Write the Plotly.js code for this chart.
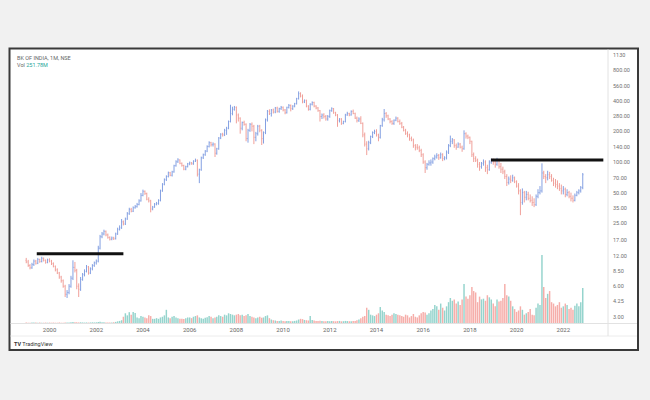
<!DOCTYPE html>
<html><head><meta charset="utf-8">
<script src="https://cdn.plot.ly/plotly-3.0.1.min.js"></script>
<style>html,body{margin:0;padding:0;background:#f1f1f1;}#chart{width:650px;height:400px;}</style>
</head><body><div id="chart"></div>
<script>
// Monthly bars, first bar = Jan 1999
const startYear = 1999;
const openP = [
10.8,10.4,9.6,9.1,9.8,10.6,10.1,11.0,10.5,11.3,10.8,10.3,
10.9,10.6,10.0,9.4,8.7,8.1,7.4,6.8,6.0,5.0,5.2,6.0,
7.2,9.2,8.6,6.0,5.6,7.0,7.8,8.4,9.3,8.1,8.9,9.6,
10.2,10.6,14.2,18.4,19.6,20.8,19.2,18.1,17.4,17.9,17.6,19.6,
21.8,22.5,25.8,24.6,27.5,31.0,34.2,32.8,35.5,36.4,38.2,41.5,
47.0,51.5,49.0,43.0,41.5,34.5,36.0,38.5,39.0,42.0,52.0,60.5,
67.0,72.0,78.5,74.0,80.0,92.0,100.5,105.0,97.0,92.5,85.0,90.0,
96,98,96,102,104,76,84,110,118,128,142,155,
148,150,122,135,172,188,185,205,215,250,300,330,
345,290,270,215,245,235,170,205,235,225,175,190,
225,205,170,195,260,315,300,325,310,340,315,335,
345,325,305,345,360,335,355,375,420,470,445,390,
405,355,330,370,385,355,340,320,280,290,280,265,
280,320,335,305,290,255,265,240,250,290,300,290,
315,300,270,255,265,240,185,150,135,155,178,195,
200,185,175,228,260,300,285,265,250,240,258,270,
250,240,220,205,190,185,170,165,145,140,138,130,
118,100,88,95,98,100,108,112,116,110,118,108,
110,125,145,160,165,145,140,150,140,135,190,180,
175,160,118,108,104,95,90,97,100,88,84,100,
104,100,95,104,90,85,80,72,63,68,66,70,
64,58,52,40,50,45,48,44,42,40,38,46,
50,52,78,72,70,75,72,66,62,60,58,55,
52,54,48,50,46,44,42,47,50,52,56
];
const highP = [
11.4,10.9,9.9,10.2,11.0,10.9,11.4,11.2,11.7,11.5,11.0,11.2,
11.3,10.9,10.3,9.6,9.0,8.3,7.6,7.0,6.2,5.5,6.3,7.6,
10.8,10.4,8.9,6.4,7.4,8.1,8.8,9.7,9.5,9.2,9.9,10.5,
11.0,15.0,19.2,20.5,21.6,21.2,19.8,18.6,18.5,18.4,20.2,22.6,
23.8,27.5,26.6,28.4,32.2,35.5,35.4,36.6,37.8,39.6,43.0,49.5,
53.5,52.5,50.0,45.0,42.5,37.0,39.5,40.5,43.0,53.5,62.0,69.0,
74.0,80.5,80.0,82.0,94.0,104.0,109.0,106.0,99.0,94.0,92.0,98.0,
101,100,104,108,106,86,113,121,131,146,160,158,
156,153,138,176,192,194,212,222,256,366,350,356,
352,300,275,250,255,240,212,242,245,232,198,232,
232,210,200,268,325,330,332,335,348,350,342,356,
352,332,350,372,368,362,382,428,495,485,462,412,
410,362,378,395,392,362,348,325,300,302,290,290,
328,345,340,312,296,270,270,255,298,312,305,322,
328,306,280,275,282,245,195,160,162,182,200,208,
210,190,232,272,332,310,292,270,258,262,280,276,
262,248,226,212,200,190,178,170,150,150,145,135,
122,104,98,104,106,111,118,122,120,124,122,114,
130,150,182,172,168,152,156,154,145,205,196,186,
178,162,124,114,108,100,100,106,104,94,104,108,
108,104,110,106,98,90,84,76,72,74,75,72,
66,62,54,55,52,52,51,48,46,44,48,54,
58,97,82,76,82,80,76,70,68,66,62,60,
58,56,54,52,50,47,49,52,54,58,78
];
const lowP = [
10.1,9.3,8.8,8.9,9.5,9.8,9.9,10.2,10.3,10.5,10.0,10.1,
10.3,9.7,9.2,8.4,7.9,7.1,6.5,5.8,4.7,4.6,5.0,5.8,
6.9,8.2,5.6,4.7,5.4,6.8,7.5,8.2,7.8,7.9,8.6,9.3,
9.8,10.3,13.8,17.8,19.0,18.6,17.6,16.9,17.0,17.1,17.3,19.2,
21.2,22.0,23.8,24.0,27.0,30.2,32.0,32.2,34.8,35.6,37.5,40.8,
46.0,47.5,42.0,40.0,32.0,33.5,35.5,37.5,38.0,41.0,51.0,59.0,
65.0,70.5,72.5,72.0,78.5,90.0,98.0,95.0,90.0,83.0,83.0,88.5,
93,94,94,100,72,62,82,107,115,125,139,142,
142,112,118,132,168,178,180,185,210,245,288,320,
240,250,190,205,228,160,155,198,200,150,160,182,
196,147,152,188,250,290,280,300,302,306,305,325,
315,295,300,336,315,325,345,368,412,432,378,380,
345,320,322,360,345,330,312,250,265,268,255,255,
272,312,298,282,222,245,232,235,245,285,282,286,
295,265,245,248,236,175,142,117,130,150,172,188,
178,160,170,222,250,272,258,240,232,232,252,245,
232,215,200,185,175,162,160,138,130,132,125,112,
96,78,84,92,92,96,104,108,105,108,102,104,
106,120,140,150,138,132,138,136,126,132,170,168,
150,112,100,100,88,82,86,92,80,76,82,96,
94,88,92,86,78,76,68,58,60,62,64,62,
56,48,30,38,40,42,42,40,37,36,37,44,
48,50,68,62,66,68,64,58,56,54,52,48,
48,45,46,44,41,40,41,46,48,50,54
];
const closeP = [
10.4,9.6,9.1,9.8,10.6,10.1,11.0,10.5,11.3,10.8,10.3,10.9,
10.6,10.0,9.4,8.7,8.1,7.4,6.8,6.0,5.0,5.2,6.0,7.2,
9.2,8.6,6.0,5.6,7.0,7.8,8.4,9.3,8.1,8.9,9.6,10.2,
10.6,14.2,18.4,19.6,20.8,19.2,18.1,17.4,17.9,17.6,19.6,21.8,
22.5,25.8,24.6,27.5,31.0,34.2,32.8,35.5,36.4,38.2,41.5,47.0,
51.5,49.0,43.0,41.5,34.5,36.0,38.5,39.0,42.0,52.0,60.5,67.0,
72.0,78.5,74.0,80.0,92.0,100.5,105.0,97.0,92.5,85.0,90.0,96.0,
98,96,102,104,76,84,110,118,128,142,155,148,
150,122,135,172,188,185,205,215,250,300,330,345,
290,270,215,245,235,170,205,235,225,175,190,225,
205,170,195,260,315,300,325,310,340,315,335,345,
325,305,345,360,335,355,375,420,470,445,390,405,
355,330,370,385,355,340,320,280,290,280,265,280,
320,335,305,290,255,265,240,250,290,300,290,315,
300,270,255,265,240,185,150,135,155,178,195,200,
185,175,228,260,300,285,265,250,240,258,270,250,
240,220,205,190,185,170,165,145,140,138,130,118,
100,88,95,98,100,108,112,116,110,118,108,110,
125,145,160,165,145,140,150,140,135,190,180,175,
160,118,108,104,95,90,97,100,88,84,100,104,
100,95,104,90,85,80,72,63,68,66,70,64,
58,52,40,50,45,48,44,42,40,38,46,50,
52,78,72,70,75,72,66,62,60,58,55,52,
54,48,50,46,44,42,47,50,52,56,75
];
const volumeM = [
3,2,2,3,4,3,2,3,2,2,3,2,
3,2,3,2,2,3,2,2,3,4,3,5,
8,6,5,4,5,4,3,4,3,4,5,4,
5,8,9,6,5,4,4,3,4,5,8,12,
15,20,45,70,55,78,60,80,72,40,35,50,
45,40,35,55,50,30,30,35,30,40,45,55,
95,40,35,45,50,40,35,30,30,28,35,40,
40,35,45,50,55,40,35,30,38,42,50,45,
35,40,45,55,50,45,60,55,70,65,60,55,
60,65,55,60,50,55,65,50,45,40,35,40,
45,38,40,50,55,35,25,20,18,15,15,18,
14,12,15,14,12,13,15,18,25,30,28,22,
20,18,50,22,18,15,14,16,14,12,13,15,
12,14,13,12,14,15,12,13,15,14,12,13,
14,15,20,25,35,45,50,110,95,60,55,50,
60,70,115,90,80,60,55,50,60,70,65,60,
55,50,45,60,55,40,50,65,45,40,55,70,
80,75,60,70,90,100,130,120,95,140,110,90,
120,150,180,160,170,140,155,130,170,280,190,175,
200,260,230,220,150,190,170,175,160,200,185,170,
140,120,170,155,160,180,280,200,190,160,120,100,
80,90,120,95,60,70,80,100,60,55,110,140,
130,490,260,180,210,230,150,140,120,130,150,110,
120,140,130,100,110,95,125,140,120,150,251.78
];
const priceTickVals = [3,4.25,6,8.5,12,17,25,35,50,70,100,140,200,280,400,560,800,1130];
const priceTickText = ['3.00','4.25','6.00','8.50','12.00','17.00','25.00','35.00','50.00','70.00','100.00','140.00','200.00','280.00','400.00','560.00','800.00','1130'];
const levelStart = ['1999-06-15','2018-11-27'];
const levelEnd = ['2003-03-01','2023-09-19'];
const levelPrice = [12.55,104.6];
const symbolText = 'BK OF INDIA, 1M, NSE';
const lastVolText = '251.78M';

const months = closeP.map((_, i) => {
  const y = startYear + Math.floor(i / 12);
  const m = (i % 12) + 1;
  return y + '-' + String(m).padStart(2, '0') + '-01';
});
const volColors = closeP.map((c, i) => c >= openP[i] ? '#95d4cd' : '#f6aeaa');

const W = 650, H = 400, L = 11, R = 42, T = 50, B = 77;
const pw = W - L - R, ph = H - T - B;
const px = x => (x - L) / pw;
const py = y => (H - B - y) / ph;

const traces = [
  {type:'bar', x:months, y:volumeM, marker:{color:volColors, line:{width:0}}, xaxis:'x', yaxis:'y', hoverinfo:'skip', showlegend:false},
  {type:'ohlc', x:months, open:openP, high:highP, low:lowP, close:closeP, xaxis:'x', yaxis:'y2',
   increasing:{line:{color:'#84a0e2', width:1}}, decreasing:{line:{color:'#f0a09a', width:1}},
   tickwidth:0.35, showlegend:false, hoverinfo:'skip'}
];
levelPrice.forEach((p, i) => {
  traces.push({type:'scatter', mode:'lines', x:[levelStart[i], levelEnd[i]], y:[p, p],
    xaxis:'x', yaxis:'y2', line:{color:'#111111', width:3}, hoverinfo:'skip', showlegend:false});
});

const gridLine = '#e2e2e2';
const layout = {
  width:W, height:H,
  margin:{l:L, r:R, t:T, b:B, pad:0},
  paper_bgcolor:'#f1f1f1', plot_bgcolor:'rgba(0,0,0,0)',
  font:{family:'Roboto, "Liberation Sans", sans-serif', color:'#666'},
  bargap:0.18, showlegend:false,
  xaxis:{type:'date', range:['1998-05-08','2023-12-01'], rangeslider:{visible:false},
    showgrid:false, zeroline:false, showline:false, ticks:'',
    tick0:'2000-01-01', dtick:'M24', tickformat:'%Y',
    tickfont:{size:6, color:'#666'}, ticklabelstandoff:2},
  yaxis:{range:[0, 1966], visible:false, fixedrange:true},
  yaxis2:{overlaying:'y', side:'right', type:'log', range:[0.4166, 3.1018],
    tickvals:priceTickVals, ticktext:priceTickText, ticks:'',
    showgrid:false, zeroline:false, showline:false,
    tickfont:{size:5.5, color:'#707070'}, ticklabelstandoff:4},
  shapes:[
    {type:'rect', xref:'paper', yref:'paper', x0:px(9.5), x1:px(638), y0:py(350), y1:py(48.5),
     fillcolor:'#ffffff', line:{color:'#3a3a3a', width:2}, layer:'below'},
    {type:'line', xref:'paper', yref:'paper', x0:px(10.5), x1:px(637), y0:py(323.5), y1:py(323.5), line:{color:gridLine, width:1}},
    {type:'line', xref:'paper', yref:'paper', x0:px(10.5), x1:px(637), y0:py(336), y1:py(336), line:{color:'#ececec', width:1}},
    {type:'line', xref:'paper', yref:'paper', x0:px(608), x1:px(608), y0:py(336), y1:py(49.5), line:{color:gridLine, width:1}}
  ],
  annotations:[
    {xref:'paper', yref:'paper', x:px(15), y:py(57.5), xanchor:'left', yanchor:'middle', showarrow:false,
     text:symbolText, font:{size:5.5, color:'#666'}},
    {xref:'paper', yref:'paper', x:px(15), y:py(64.5), xanchor:'left', yanchor:'middle', showarrow:false,
     text:'Vol <span style="color:#26a69a">' + lastVolText + '</span>', font:{size:5.5, color:'#666'}},
    {xref:'paper', yref:'paper', x:px(12), y:py(344), xanchor:'left', yanchor:'middle', showarrow:false,
     text:'<b>TV</b> TradingView', font:{size:5.5, color:'#333'}}
  ]
};
Plotly.newPlot('chart', traces, layout, {displayModeBar:false, staticPlot:true});
</script>
</body></html>
